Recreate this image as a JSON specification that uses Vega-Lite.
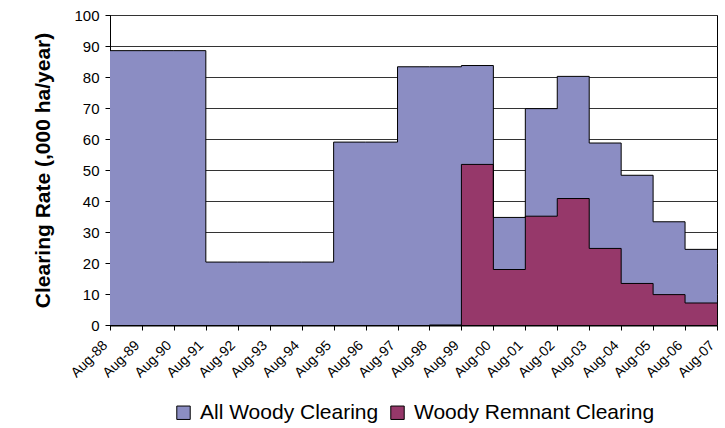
{
  "$schema": "https://vega.github.io/schema/vega-lite/v6.json",
  "width": 607,
  "height": 310,
  "autosize": "none",
  "padding": {"left": 110, "top": 15, "right": 8, "bottom": 103},
  "background": "white",
  "config": {
    "font": "Liberation Sans",
    "view": {"stroke": "black", "strokeWidth": 1},
    "axis": {"labelColor": "black", "titleColor": "black", "tickColor": "black", "domainColor": "black"}
  },
  "data": {
    "values": [
      {"series": "All Woody Clearing", "year": 1988, "rate": 88.5},
      {"series": "All Woody Clearing", "year": 1989, "rate": 88.5},
      {"series": "All Woody Clearing", "year": 1990, "rate": 88.5},
      {"series": "All Woody Clearing", "year": 1991, "rate": 20.3},
      {"series": "All Woody Clearing", "year": 1992, "rate": 20.3},
      {"series": "All Woody Clearing", "year": 1993, "rate": 20.3},
      {"series": "All Woody Clearing", "year": 1994, "rate": 20.3},
      {"series": "All Woody Clearing", "year": 1995, "rate": 59.0},
      {"series": "All Woody Clearing", "year": 1996, "rate": 59.0},
      {"series": "All Woody Clearing", "year": 1997, "rate": 83.3},
      {"series": "All Woody Clearing", "year": 1998, "rate": 83.3},
      {"series": "All Woody Clearing", "year": 1999, "rate": 83.7},
      {"series": "All Woody Clearing", "year": 2000, "rate": 34.7},
      {"series": "All Woody Clearing", "year": 2001, "rate": 69.8},
      {"series": "All Woody Clearing", "year": 2002, "rate": 80.2},
      {"series": "All Woody Clearing", "year": 2003, "rate": 58.7},
      {"series": "All Woody Clearing", "year": 2004, "rate": 48.3},
      {"series": "All Woody Clearing", "year": 2005, "rate": 33.3},
      {"series": "All Woody Clearing", "year": 2006, "rate": 24.4},
      {"series": "All Woody Clearing", "year": 2007, "rate": 24.4},
      {"series": "Woody Remnant Clearing", "year": 1998, "rate": 0},
      {"series": "Woody Remnant Clearing", "year": 1999, "rate": 51.8},
      {"series": "Woody Remnant Clearing", "year": 2000, "rate": 17.9},
      {"series": "Woody Remnant Clearing", "year": 2001, "rate": 35.1},
      {"series": "Woody Remnant Clearing", "year": 2002, "rate": 40.8},
      {"series": "Woody Remnant Clearing", "year": 2003, "rate": 24.7},
      {"series": "Woody Remnant Clearing", "year": 2004, "rate": 13.4},
      {"series": "Woody Remnant Clearing", "year": 2005, "rate": 9.8},
      {"series": "Woody Remnant Clearing", "year": 2006, "rate": 7.1},
      {"series": "Woody Remnant Clearing", "year": 2007, "rate": 7.1}
    ]
  },
  "encoding": {
    "x": {
      "field": "year", "type": "quantitative",
      "scale": {"domain": [1988, 2007], "zero": false, "nice": false},
      "axis": {
        "values": [1988,1989,1990,1991,1992,1993,1994,1995,1996,1997,1998,1999,2000,2001,2002,2003,2004,2005,2006,2007],
        "labelExpr": "'Aug-' + format(datum.value % 100, '02d')",
        "labelAngle": -45, "labelAlign": "right", "labelBaseline": "middle",
        "labelFontSize": 14, "labelPadding": 13, "labelOffset": -5,
        "labelOverlap": false, "labelFlush": false, "labelBound": false,
        "tickSize": 5, "domainWidth": 2, "grid": false, "title": null
      }
    },
    "y": {
      "field": "rate", "type": "quantitative", "stack": null,
      "scale": {"domain": [0, 100], "nice": false},
      "axis": {
        "values": [0,10,20,30,40,50,60,70,80,90,100],
        "grid": true, "gridColor": "#333", "gridWidth": 1,
        "tickSize": 5, "labelFontSize": 15, "labelPadding": 6,
        "title": "Clearing Rate (,000 ha/year)", "titleFontSize": 21, "titleFontWeight": "bold", "titlePadding": 20
      }
    }
  },
  "layer": [
    {
      "mark": {"type": "area", "interpolate": "step-after", "opacity": 1},
      "encoding": {
        "color": {
          "field": "series", "type": "nominal",
          "scale": {"domain": ["All Woody Clearing", "Woody Remnant Clearing"], "range": ["#8B8DC3", "#96386A"]},
          "legend": {
            "orient": "none", "legendX": 63, "legendY": 387, "padding": 0,
            "direction": "horizontal", "title": null,
            "labelFontSize": 21, "labelColor": "black", "labelLimit": 400,
            "symbolType": "square", "symbolSize": 180,
            "symbolStrokeColor": "black", "symbolStrokeWidth": 1, "symbolOpacity": 1,
            "labelOffset": 6, "columnPadding": 8
          }
        }
      }
    },
    {
      "mark": {"type": "line", "interpolate": "step-after", "color": "black", "strokeWidth": 1},
      "encoding": {"detail": {"field": "series"}}
    }
  ]
}
